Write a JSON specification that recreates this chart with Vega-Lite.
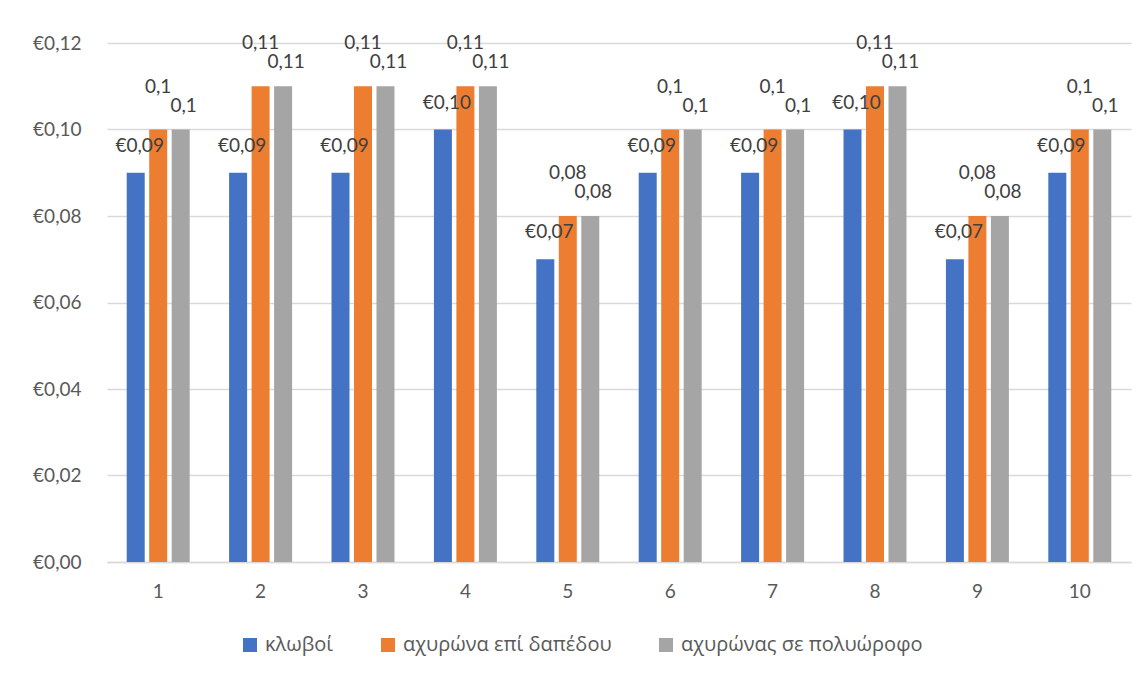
{
  "$schema": "https://vega.github.io/schema/vega-lite/v6.json",
  "width": 1024,
  "height": 519,
  "autosize": {"type": "none"},
  "padding": {"left": 107, "top": 43, "right": 16, "bottom": 115},
  "background": "white",
  "config": {
    "locale": {"number": {"decimal": ",", "thousands": ".", "grouping": [3], "currency": ["€", ""]}},
    "view": {"stroke": null},
    "font": "Lato"
  },
  "data": {
    "values": [
      {"k": "1", "s": "κλωβοί", "v": 0.09}, {"k": "1", "s": "αχυρώνα επί δαπέδου", "v": 0.1}, {"k": "1", "s": "αχυρώνας σε πολυώροφο", "v": 0.1},
      {"k": "2", "s": "κλωβοί", "v": 0.09}, {"k": "2", "s": "αχυρώνα επί δαπέδου", "v": 0.11}, {"k": "2", "s": "αχυρώνας σε πολυώροφο", "v": 0.11},
      {"k": "3", "s": "κλωβοί", "v": 0.09}, {"k": "3", "s": "αχυρώνα επί δαπέδου", "v": 0.11}, {"k": "3", "s": "αχυρώνας σε πολυώροφο", "v": 0.11},
      {"k": "4", "s": "κλωβοί", "v": 0.10}, {"k": "4", "s": "αχυρώνα επί δαπέδου", "v": 0.11}, {"k": "4", "s": "αχυρώνας σε πολυώροφο", "v": 0.11},
      {"k": "5", "s": "κλωβοί", "v": 0.07}, {"k": "5", "s": "αχυρώνα επί δαπέδου", "v": 0.08}, {"k": "5", "s": "αχυρώνας σε πολυώροφο", "v": 0.08},
      {"k": "6", "s": "κλωβοί", "v": 0.09}, {"k": "6", "s": "αχυρώνα επί δαπέδου", "v": 0.1}, {"k": "6", "s": "αχυρώνας σε πολυώροφο", "v": 0.1},
      {"k": "7", "s": "κλωβοί", "v": 0.09}, {"k": "7", "s": "αχυρώνα επί δαπέδου", "v": 0.1}, {"k": "7", "s": "αχυρώνας σε πολυώροφο", "v": 0.1},
      {"k": "8", "s": "κλωβοί", "v": 0.10}, {"k": "8", "s": "αχυρώνα επί δαπέδου", "v": 0.11}, {"k": "8", "s": "αχυρώνας σε πολυώροφο", "v": 0.11},
      {"k": "9", "s": "κλωβοί", "v": 0.07}, {"k": "9", "s": "αχυρώνα επί δαπέδου", "v": 0.08}, {"k": "9", "s": "αχυρώνας σε πολυώροφο", "v": 0.08},
      {"k": "10", "s": "κλωβοί", "v": 0.09}, {"k": "10", "s": "αχυρώνα επί δαπέδου", "v": 0.1}, {"k": "10", "s": "αχυρώνας σε πολυώροφο", "v": 0.1}
    ]
  },
  "encoding": {
    "x": {
      "field": "k", "type": "ordinal", "sort": null, "title": null,
      "scale": {"paddingInner": 0.385, "paddingOuter": 0.1925},
      "axis": {"labelAngle": 0, "ticks": false, "domainColor": "#d9d9d9", "domainWidth": 1.5, "labelFontSize": 19, "labelColor": "#595959", "labelPadding": 20, "labelFont": "Lato"}
    },
    "xOffset": {"field": "s", "type": "nominal", "sort": ["κλωβοί", "αχυρώνα επί δαπέδου", "αχυρώνας σε πολυώροφο"], "scale": {"paddingInner": 0.2, "paddingOuter": 0}},
    "y": {
      "field": "v", "type": "quantitative", "title": null,
      "scale": {"domain": [0, 0.12], "nice": false},
      "axis": {"values": [0, 0.02, 0.04, 0.06, 0.08, 0.1, 0.12], "format": "$.2f", "ticks": false, "domain": false, "gridColor": "#d9d9d9", "gridWidth": 1.5, "labelFontSize": 19, "labelColor": "#595959", "labelPadding": 26, "labelFont": "Lato"}
    }
  },
  "layer": [
    {
      "mark": {"type": "bar"},
      "encoding": {
        "color": {
          "field": "s", "type": "nominal", "title": null,
          "scale": {"domain": ["κλωβοί", "αχυρώνα επί δαπέδου", "αχυρώνας σε πολυώροφο"], "range": ["#4472C4", "#ED7D31", "#A5A5A5"]},
          "legend": {"orient": "none", "legendX": 133, "legendY": 592, "direction": "horizontal", "symbolType": "square", "symbolSize": 196, "symbolStrokeWidth": 0, "labelFontSize": 20, "labelLimit": 0, "labelColor": "#595959", "labelFont": "Open Sans", "columnPadding": 44, "labelOffset": 5}
        }
      }
    },
    {
      "transform": [{"filter": "datum.s === 'κλωβοί'"}],
      "mark": {"type": "text", "dy": -27, "dx": 4, "fontSize": 19, "color": "#404040", "baseline": "middle"},
      "encoding": {"text": {"field": "v", "type": "quantitative", "format": "$.2f"}}
    },
    {
      "transform": [{"filter": "datum.s === 'αχυρώνα επί δαπέδου'"}],
      "mark": {"type": "text", "dy": -43, "fontSize": 19, "color": "#404040", "baseline": "middle"},
      "encoding": {"text": {"field": "v", "type": "quantitative", "format": ".2~f"}}
    },
    {
      "transform": [{"filter": "datum.s === 'αχυρώνας σε πολυώροφο'"}],
      "mark": {"type": "text", "dy": -24, "dx": 3, "fontSize": 19, "color": "#404040", "baseline": "middle"},
      "encoding": {"text": {"field": "v", "type": "quantitative", "format": ".2~f"}}
    }
  ]
}
